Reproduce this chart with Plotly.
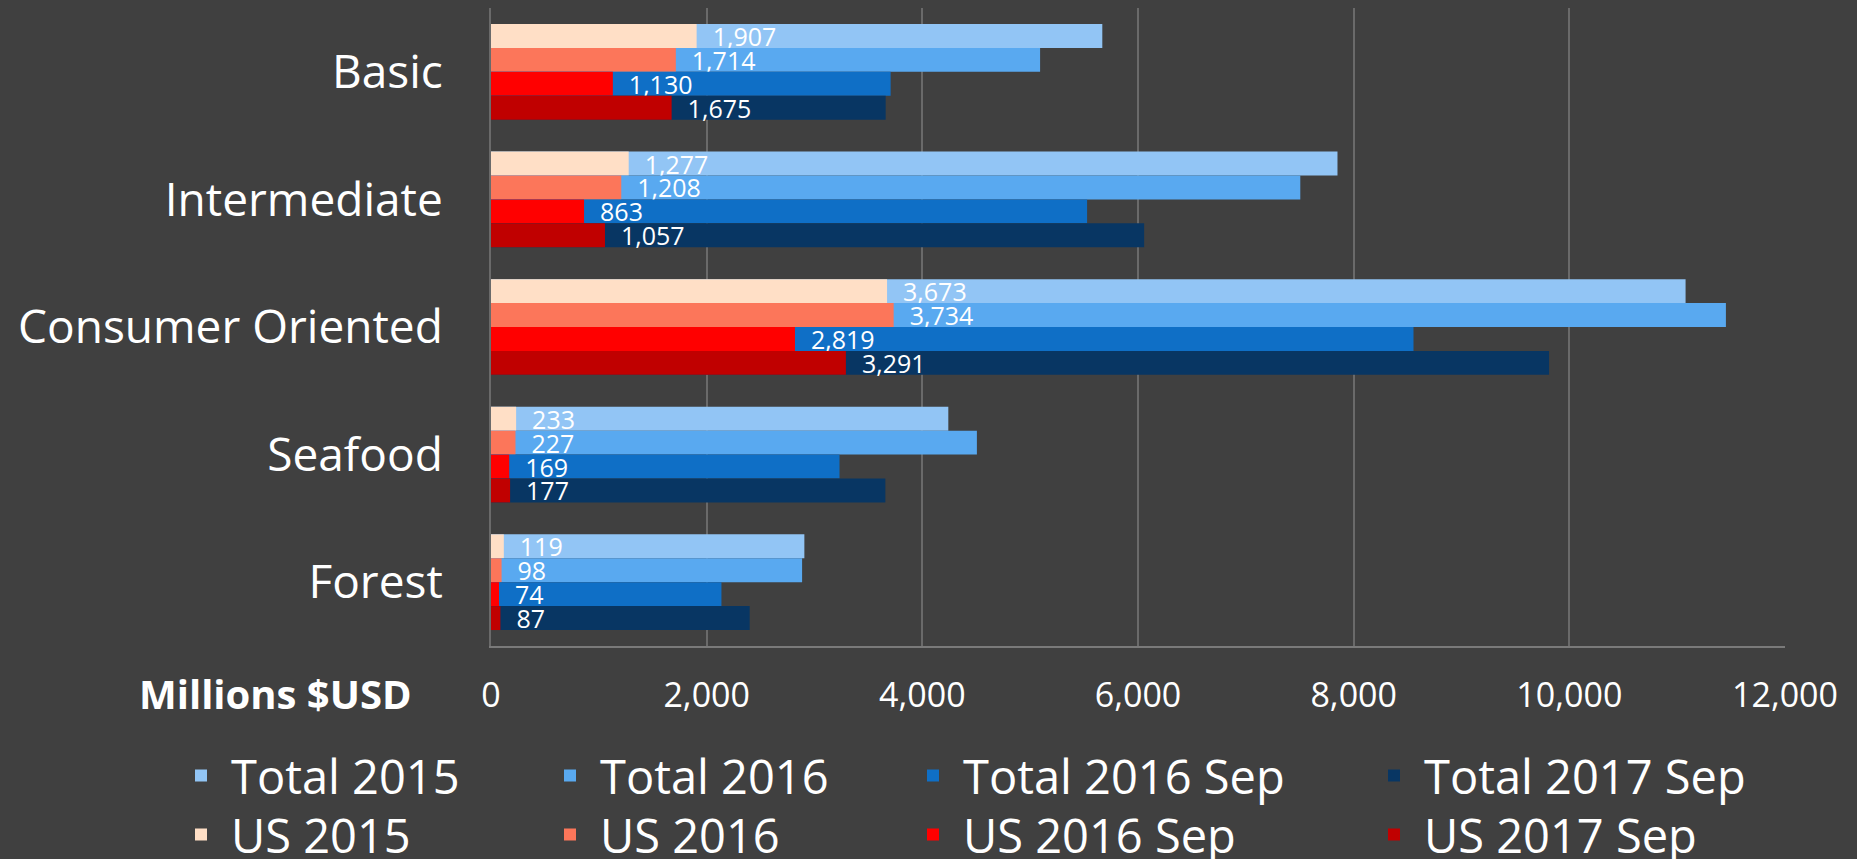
import plotly.graph_objects as go

categories = ["Basic", "Intermediate", "Consumer Oriented", "Seafood", "Forest"]

total_2015 = [5669, 7850, 11078, 4241, 2906]
total_2016 = [5092, 7505, 11452, 4506, 2885]
total_2016_sep = [3706, 5528, 8555, 3232, 2137]
total_2017_sep = [3660, 6057, 9812, 3657, 2399]

us_2015 = [1907, 1277, 3673, 233, 119]
us_2016 = [1714, 1208, 3734, 227, 98]
us_2016_sep = [1130, 863, 2819, 169, 74]
us_2017_sep = [1675, 1057, 3291, 177, 87]

x_ticks = [0, 2000, 4000, 6000, 8000, 10000, 12000]

BG = "#404040"
FONT = "Open Sans"

pairs = [
    ("Total 2015", total_2015, "#92C5F5", "US 2015", us_2015, "#FFDFC6"),
    ("Total 2016", total_2016, "#59A9F0", "US 2016", us_2016, "#FC765A"),
    ("Total 2016 Sep", total_2016_sep, "#0F6FC6", "US 2016 Sep", us_2016_sep, "#FF0000"),
    ("Total 2017 Sep", total_2017_sep, "#083663", "US 2017 Sep", us_2017_sep, "#C00000"),
]

plot_l, plot_r = 491, 72
plot_w = 1857 - plot_l - plot_r
plot_t, plot_b = 8, 213
plot_h = 859 - plot_t - plot_b


def px_to_paper_x(px):
    return (px - plot_l) / plot_w


def px_to_paper_y(py):
    return (859 - plot_b - py) / plot_h


col_px = [171, 540, 903, 1364]
row_px = [776, 835]

legend_common = dict(
    orientation="v", font=dict(family=FONT, size=47, color="white"),
    bgcolor="rgba(0,0,0,0)", xanchor="left", yanchor="middle",
    tracegroupgap=0, itemclick=False, itemdoubleclick=False, itemwidth=50,
)

legends = {}
fig = go.Figure()
for i, (tname, tvals, tcol, uname, uvals, ucol) in enumerate(pairs):
    leg_t = "legend" if i == 0 else f"legend{i + 1}"
    leg_u = f"legend{i + 5}"
    legends[leg_t] = dict(legend_common, x=px_to_paper_x(col_px[i]), y=px_to_paper_y(row_px[0]))
    legends[leg_u] = dict(legend_common, x=px_to_paper_x(col_px[i]), y=px_to_paper_y(row_px[1]))
    fig.add_trace(go.Bar(
        name=tname, y=categories, x=tvals, orientation="h",
        marker=dict(color=tcol, line=dict(width=0)),
        offsetgroup=str(i), legend=leg_t,
    ))
    fig.add_trace(go.Bar(
        name=uname, y=categories, x=uvals, orientation="h",
        marker=dict(color=ucol, line=dict(width=0)),
        offsetgroup=str(i), legend=leg_u,
        text=uvals, texttemplate="\u00a0\u00a0%{x:,.0f}", textposition="outside",
        textfont=dict(family=FONT, size=25, color="white"),
        constraintext="none", cliponaxis=False,
    ))

fig.update_layout(
    width=1857, height=859,
    paper_bgcolor=BG, plot_bgcolor=BG,
    barmode="group", bargap=0.25, bargroupgap=0,
    margin=dict(l=plot_l, r=plot_r, t=plot_t, b=plot_b, autoexpand=False),
    font=dict(family=FONT, color="white"),
    showlegend=True,
    xaxis=dict(
        range=[0, 12000], tickvals=x_ticks, tickformat=",",
        showgrid=True, gridcolor="#6a6a6a", gridwidth=2,
        zeroline=False, showline=True, linecolor="#7a7a7a", linewidth=2,
        ticks="outside", ticklen=18, tickcolor="rgba(0,0,0,0)",
        tickfont=dict(family=FONT, size=34, color="white"),
        automargin=False, fixedrange=True,
    ),
    yaxis=dict(
        autorange="reversed", categoryorder="array", categoryarray=categories,
        showgrid=False, zeroline=False, showline=True, linecolor="#6a6a6a", linewidth=2,
        ticks="outside", ticklen=37, tickcolor="rgba(0,0,0,0)",
        tickfont=dict(family=FONT, size=46, color="white"),
        automargin=False, fixedrange=True,
    ),
    annotations=[dict(
        text="<b>Millions $USD</b>", xref="paper", yref="paper",
        x=px_to_paper_x(414), y=px_to_paper_y(693), xanchor="right", yanchor="middle",
        showarrow=False, font=dict(family=FONT, size=40, color="white"),
    )],
)
fig.update_layout(**legends)

fig.write_html(
    "out.html",
    config={"displayModeBar": False},
    post_script="document.body.style.margin='0';",
)
